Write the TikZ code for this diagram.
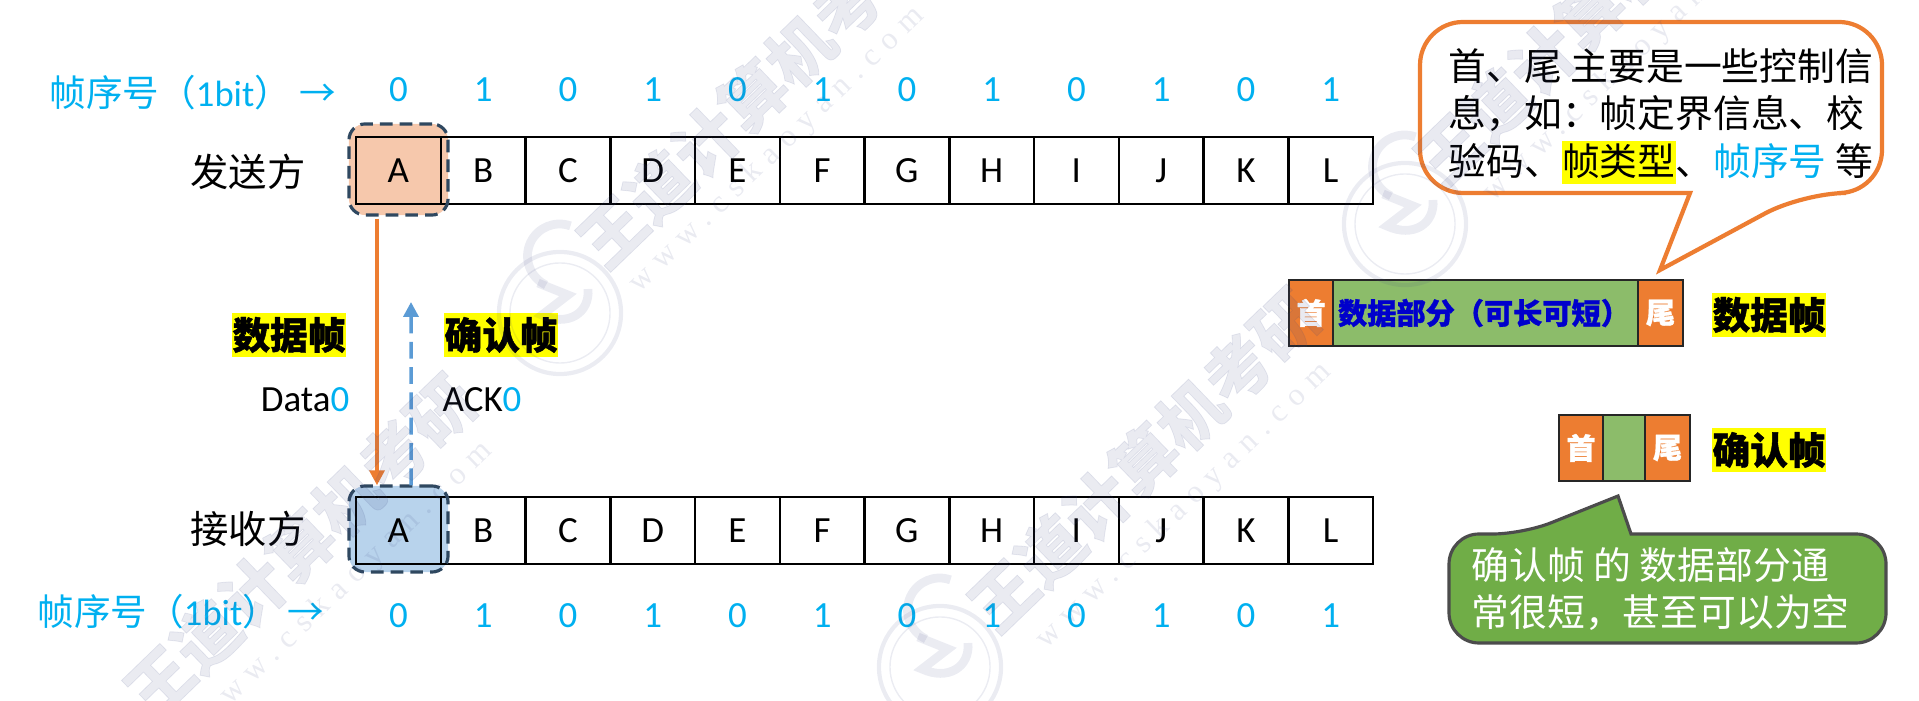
\documentclass[tikz,border=0pt]{standalone}
\usepackage{fontspec}
\setmainfont{Carlito}
\newfontfamily\cjk[BoldFeatures={FakeBold=1.2}]{Noto Sans CJK SC}
\newfontfamily\wmfont[LetterSpace=30]{Liberation Serif}
\usetikzlibrary{arrows.meta}
\definecolor{seqblue}{RGB}{0,176,240}
\definecolor{frameorange}{RGB}{237,125,49}
\definecolor{framegreen}{RGB}{140,188,106}
\definecolor{tipgreen}{RGB}{112,173,71}
\definecolor{slateline}{RGB}{47,72,96}
\definecolor{sendfill}{RGB}{246,200,172}
\definecolor{recvfill}{RGB}{184,211,236}
\definecolor{ackblue}{RGB}{91,155,213}
\definecolor{wmark}{RGB}{60,70,130}
\definecolor{hilite}{RGB}{255,255,0}
\newcommand{\cjksize}[1]{\fontsize{#1}{#1}\selectfont\cjk}
\newcommand{\hl}[1]{{\setlength{\fboxsep}{0pt}\colorbox{hilite}{\rule[-.25em]{0pt}{1.16em}#1}}}
\begin{document}
\begin{tikzpicture}[
	x=0.01cm, y=-0.01cm,
	cell/.style={draw=black, line width=.7pt, minimum width=.8475cm, minimum height=.67cm, inner sep=0pt, font=\fontsize{10.5}{11}\selectfont},
	seqnum/.style={text=seqblue, inner sep=0pt, font=\fontsize{10.5}{11}\selectfont},
	seqlabel/.style={text=seqblue, inner sep=0pt, font=\cjksize{10.4}},
	party/.style={inner sep=0pt, font=\cjksize{10.9}},
	hibox/.style={rounded corners=.16cm, minimum width=.99cm, inner sep=0pt},
	hiring/.style={hibox, draw=slateline, line width=.9pt, dash pattern=on 3.6pt off 2pt},
	tag/.style={fill=hilite, inner sep=0pt, minimum width=1.14cm, minimum height=.44cm, font=\cjksize{10.7}\bfseries},
	part/.style={draw=black!85, line width=.6pt, minimum height=.66cm, inner sep=0pt, text=white, font=\cjksize{8.3}\bfseries},
	msg/.style={inner sep=0pt, font=\fontsize{10.5}{11}\selectfont},
	note/.style={inner sep=0pt, anchor=north west, align=left, font=\fontsize{10.75}{13.5}\selectfont\cjk},
	wmtext/.style={text=wmark, opacity=.11, rotate=44, inner sep=0pt, font=\cjksize{18.5}\bfseries},
	wmsmall/.style={text=wmark, opacity=.11, rotate=44, inner sep=0pt, font=\fontsize{9}{9}\selectfont\wmfont},
]
\useasboundingbox (0,0) rectangle (1919,701);

%%% SEND ROW
\node [hibox, fill=sendfill, minimum height=.91cm] (sendhi) at (398.5,169.5) {};
\foreach \c [count=\i] in {A,B,C,D,E,F,G,H,I,J,K,L}
	\node [cell] (send\i) at ({356+84.75*(\i-.5)},170.3) {\c};
\node [hiring, minimum height=.91cm] (sendring) at (398.5,169.5) {};

%%% RECEIVE ROW
\node [hibox, fill=recvfill, minimum height=.86cm] (recvhi) at (398.5,529) {};
\foreach \c [count=\i] in {A,B,C,D,E,F,G,H,I,J,K,L}
	\node [cell] (recv\i) at ({356+84.75*(\i-.5)},530.3) {\c};
\node [hiring, minimum height=.86cm] (recvring) at (398.5,529) {};

%%% FRAME NUMBERS
\foreach \n [count=\i] in {0,1,0,1,0,1,0,1,0,1,0,1} {
	\node [seqnum] (top\i) at ({356+84.75*(\i-.5)},90) {\n};
	\node [seqnum] (bot\i) at ({356+84.75*(\i-.5)},616) {\n};
}
\node [seqlabel, anchor=west] (toplabel) at (49,93) {帧序号（{\rmfamily 1bit}）\hspace{2.4pt}→};
\node [seqlabel, anchor=west] (botlabel) at (37,612) {帧序号（{\rmfamily 1bit}）\hspace{2.4pt}→};
\node [party] (sender) at (248,172) {发送方};
\node [party] (receiver) at (248,529) {接收方};

%%% ARROWS
\coordinate (ackend) at (411,302);
\draw [frameorange, line width=1pt, -{Triangle[length=4.2pt,width=4.2pt]}] ([xshift=-.215cm,yshift=-.03cm]sendhi.south) -- ([xshift=-.215cm]recvhi.north);
\draw [ackblue, line width=1pt, dash pattern=on 4.8pt off 2.4pt, -{Triangle[length=4.2pt,width=4.2pt]}] ([xshift=.125cm]recvhi.north) -- (ackend);
\node [tag] (datatag) at (289,335) {数据帧};
\node [tag] (acktag) at (501,335) {确认帧};
\node [msg, anchor=east] (datamsg) at (350,400) {Data\textcolor{seqblue}{0}};
\node [msg, anchor=west] (ackmsg) at (442,400) {ACK\textcolor{seqblue}{0}};

%%% DATA FRAME
\node [part, fill=frameorange, minimum width=.44cm] (dhead) at (1311,313) {首};
\node [part, fill=framegreen, minimum width=3.05cm, text=blue!80!black] (dbody) at (1485.5,313) {\hspace*{.04cm}数据部分（可长可短）\hspace*{.07cm}};
\node [part, fill=frameorange, minimum width=.45cm] (dtail) at (1660.5,313) {尾};
\node [tag] (dataname) at (1769,315) {数据帧};

%%% ACK FRAME
\node [part, fill=frameorange, minimum width=.44cm] (ahead) at (1581,448) {首};
\node [part, fill=framegreen, minimum width=.42cm] (abody) at (1624,448) {};
\node [part, fill=frameorange, minimum width=.45cm] (atail) at (1667.5,448) {尾};
\node [tag] (ackname) at (1769,450) {确认帧};

%%% CALLOUTS
\draw [frameorange, fill=white, line width=1.2pt, rounded corners=.43cm] (1690,193) -- (1420,193) -- (1420,22) -- (1882,22) -- (1882,193) -- (1803,193) [sharp corners] -- (1660,270) -- cycle;
\node [note] (tophead) at (1448,47.5) {首、尾 主要是一些控制信\\息，如：帧定界信息、校\\验码、\hl{帧类型}、\textcolor{seqblue}{帧序号} 等};
\draw [black!70, fill=tipgreen, line width=.9pt, rounded corners=.3cm] (1631,534) -- (1886,534) -- (1886,643) -- (1449,643) -- (1449,534) -- (1523,534) [sharp corners] -- (1618,496) -- cycle;
\node [note, text=white] (tiptext) at (1471,546.5) {确认帧 的 数据部分通\\常很短，甚至可以为空};

%%% WATERMARK
\foreach \wx/\wy [count=\i] in {300/546,753/96,1144/460,1590/14}
	\node [wmtext] (wm\i) at (\wx,\wy) {王道计算机考研};
\foreach \wx/\wy [count=\i] in {345/585,777/150,1184/506,1631/59}
	\node [wmsmall] (wmurl\i) at (\wx,\wy) {www.cskaoyan.com};
\foreach \wx/\wy [count=\i] in {560/313,1405/224,940/667} {
	\begin{scope}[shift={(\wx,\wy)}, draw=wmark, draw opacity=.1]
	\node [draw, line width=1.2pt, circle, minimum size=1.22cm] (seal\i) at (0,0) {};
	\draw [line width=.4pt] (0,0) circle (.5cm);
	\draw [line width=2.5pt] (-14,-28) arc (115:290:32);
	\draw [line width=2.5pt] (-22,-30) -- (8,-18) -- (-18,2) .. controls (8,14) and (30,0) .. (28,-24);
	\end{scope}
}
\end{tikzpicture}
\end{document}
